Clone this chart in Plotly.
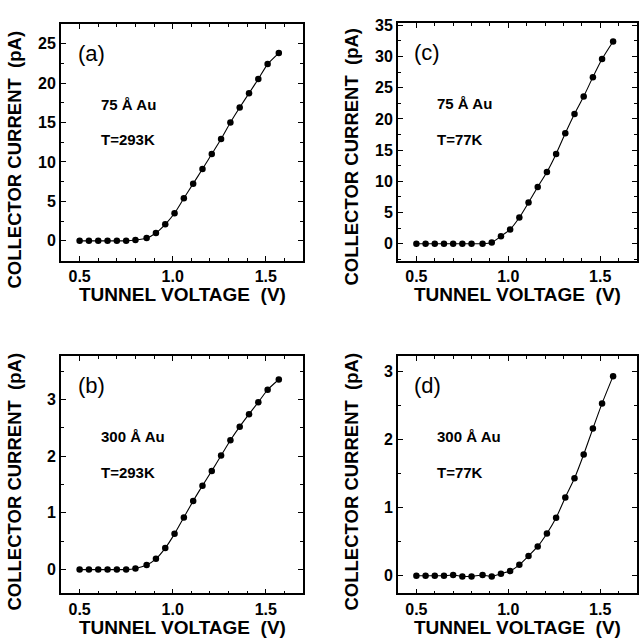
import plotly.graph_objects as go

# Tunnel voltage (V), shared by all four panels
voltage = [0.50, 0.55, 0.60, 0.65, 0.70, 0.75, 0.80, 0.86, 0.91, 0.96, 1.01,
           1.06, 1.11, 1.16, 1.21, 1.26, 1.31, 1.36, 1.41, 1.46, 1.51, 1.57]

# Collector current (pA)
cur_a = [0, 0, 0, 0, 0, 0, 0.1, 0.35, 1.0, 2.1, 3.5, 5.4, 7.25, 9.1, 11.0,
         12.9, 15.0, 16.9, 18.7, 20.5, 22.4, 23.8]
cur_c = [0, 0, 0, 0, 0, 0, 0, 0, 0.2, 1.2, 2.3, 4.2, 6.6, 9.1, 11.5, 14.4,
         17.7, 20.8, 23.6, 26.7, 29.6, 32.4]
cur_b = [0, 0, 0, 0, 0, 0, 0.02, 0.08, 0.19, 0.38, 0.63, 0.92, 1.21, 1.48,
         1.74, 2.01, 2.28, 2.52, 2.74, 2.95, 3.17, 3.35]
cur_d = [0, 0, 0, 0, 0.01, -0.01, -0.01, 0.01, -0.01, 0.03, 0.07, 0.16, 0.29,
         0.43, 0.62, 0.85, 1.15, 1.43, 1.78, 2.16, 2.53, 2.93]

panel_labels = ["(a)", "(c)", "(b)", "(d)"]
thickness = ["75 Å Au", "75 Å Au", "300 Å Au", "300 Å Au"]
temperature = ["T=293K", "T=77K", "T=293K", "T=77K"]
x_ticks = [0.5, 1.0, 1.5]
x_ticktext = ["0.5", "1.0", "1.5"]
x_title = "TUNNEL VOLTAGE  (V)"
y_title = "COLLECTOR CURRENT  (pA)"

series = [cur_a, cur_c, cur_b, cur_d]
y_ranges = [[-2.5, 27.5], [-2.7, 35.4], [-0.42, 3.77], [-0.26, 3.23]]
y_dticks = [5, 5, 1, 1]
y_minor = [2.5, 2.5, 0.5, 0.5]

W, H = 639, 641
# pixel boxes: left, right, top, bottom
boxes = [(61, 303, 18, 257), (398, 637, 17, 257), (61, 303, 353, 593), (398, 637, 353, 593)]
ytitle_center = [155, 152, 480, 480]

FONT = "Liberation Sans, Arial, Helvetica, sans-serif"

fig = go.Figure()
annotations = []
layout = {}
for i in range(4):
    n = "" if i == 0 else str(i + 1)
    l, r, t, b = boxes[i]
    xd = [l / W, r / W]
    yd = [1 - b / H, 1 - t / H]
    fig.add_trace(go.Scatter(
        x=voltage, y=series[i], mode="lines+markers",
        line=dict(color="black", width=1.1, shape="spline", smoothing=0.6),
        marker=dict(color="black", size=6.5),
        xaxis="x" + n, yaxis="y" + n, showlegend=False))
    layout["xaxis" + n] = dict(
        domain=xd, anchor="y" + n, range=[0.4, 1.7],
        tickmode="array", tickvals=x_ticks, ticktext=x_ticktext,
        ticks="inside", ticklen=5, tickwidth=1.3, tickcolor="black",
        minor=dict(dtick=0.1, tick0=0, ticks="inside", ticklen=3, tickwidth=1.2, tickcolor="black"),
        showline=True, linecolor="black", linewidth=1.8, mirror="allticks",
        showgrid=False, zeroline=False,
        tickfont=dict(family=FONT, size=16, color="black", weight="bold"))
    layout["yaxis" + n] = dict(
        domain=yd, anchor="x" + n, range=y_ranges[i],
        dtick=y_dticks[i], tick0=0,
        ticks="inside", ticklen=5, tickwidth=1.3, tickcolor="black",
        minor=dict(dtick=y_minor[i], tick0=0, ticks="inside", ticklen=3, tickwidth=1.2, tickcolor="black"),
        showline=True, linecolor="black", linewidth=1.8, mirror="allticks",
        showgrid=False, zeroline=False,
        tickfont=dict(family=FONT, size=16, color="black", weight="bold"))
    dref_x = "x" + n + " domain"
    dref_y = "y" + n + " domain"
    annotations.append(dict(text=panel_labels[i], xref=dref_x, yref=dref_y,
                            x=0.06, y=0.875, xanchor="left", yanchor="middle", showarrow=False,
                            font=dict(family=FONT, size=22, color="black")))
    annotations.append(dict(text=thickness[i], xref=dref_x, yref=dref_y,
                            x=0.155, y=0.66, xanchor="left", yanchor="middle", showarrow=False,
                            font=dict(family=FONT, size=15, color="black", weight="bold")))
    annotations.append(dict(text=temperature[i], xref=dref_x, yref=dref_y,
                            x=0.155, y=0.51, xanchor="left", yanchor="middle", showarrow=False,
                            font=dict(family=FONT, size=15, color="black", weight="bold")))
    # axis titles
    annotations.append(dict(text=x_title, xref="paper", yref="paper",
                            x=(l + r) / 2 / W, y=1 - min(b + 34, 630) / H, xanchor="center", yanchor="middle",
                            showarrow=False,
                            font=dict(family=FONT, size=19, color="black", weight="bold")))
    annotations.append(dict(text=y_title, xref="paper", yref="paper",
                            x=(l - 46) / W, y=1 - ytitle_center[i] / H, xanchor="center", yanchor="middle",
                            textangle=-90, showarrow=False,
                            font=dict(family=FONT, size=18.5, color="black", weight="bold")))

fig.update_layout(**layout)
fig.update_layout(width=W, height=H, margin=dict(l=0, r=0, t=0, b=0),
                  paper_bgcolor="white", plot_bgcolor="white",
                  annotations=annotations)
fig.write_html("out.html", config={"displayModeBar": False},
               post_script="document.body.style.margin='0';document.body.style.padding='0';")
